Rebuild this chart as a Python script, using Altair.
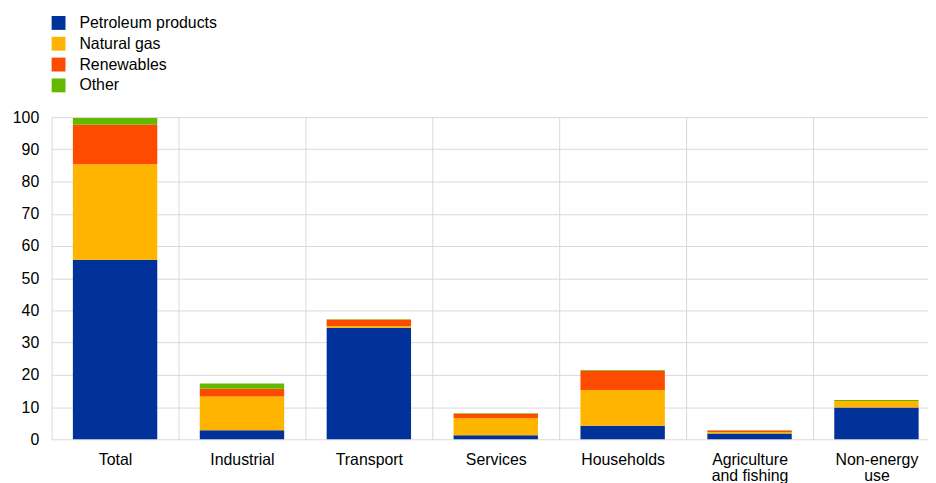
import altair as alt
import pandas as pd

categories = ["Total", "Industrial", "Transport", "Services", "Households",
              "Agriculture\nand fishing", "Non-energy\nuse"]
series = ["Petroleum products", "Natural gas", "Renewables", "Other"]
petroleum = [55.7, 2.8, 34.6, 1.3, 4.2, 1.8, 9.9]
natural_gas = [29.7, 10.5, 0.6, 5.3, 11.1, 0.5, 2.0]
renewables = [12.2, 2.4, 1.9, 1.3, 6.0, 0.4, 0.0]
other = [2.1, 1.6, 0.2, 0.2, 0.2, 0.1, 0.3]
colors = ["#003299", "#FFB400", "#FF4B00", "#65B800"]

rows = []
for s_i, (name, vals) in enumerate(zip(series, [petroleum, natural_gas, renewables, other])):
    for cat, v in zip(categories, vals):
        rows.append({"category": cat, "series": name, "value": v, "order": s_i})
df = pd.DataFrame(rows)

font = "Liberation Sans"

chart = alt.Chart(df).mark_bar(width=alt.RelativeBandSize(0.665)).encode(
    x=alt.X("category:N", sort=categories, title=None,
            scale=alt.Scale(paddingInner=0, paddingOuter=0, range=[0, 896]),
            axis=alt.Axis(labelAngle=0, tickBand="extent", grid=True, ticks=False,
                          domain=False, labelPadding=12, labelFontSize=16,
                          labelColor="#000000", labelFont=font, labelLineHeight=17,
                          labelExpr="split(datum.label, '\\n')",
                          gridColor="#d9d9d9", gridWidth=1)),
    y=alt.Y("value:Q", stack="zero", title=None,
            scale=alt.Scale(domain=[0, 100], nice=False),
            axis=alt.Axis(values=list(range(0, 101, 10)), ticks=False, domain=False,
                          labelPadding=13, labelFontSize=16, labelColor="#000000",
                          labelFont=font, gridColor="#d9d9d9", gridWidth=1)),
    color=alt.Color("series:N", sort=series, title=None,
                    scale=alt.Scale(domain=series, range=colors),
                    legend=alt.Legend(orient="none", legendX=-1, legendY=-103,
                                      symbolType="square", symbolSize=196,
                                      symbolStrokeWidth=0, labelFontSize=16,
                                      labelFont=font, labelColor="#000000",
                                      labelOffset=13, rowPadding=5)),
    order=alt.Order("order:Q", sort="ascending"),
).properties(
    width=884, height=325,
    autosize=alt.AutoSizeParams(type="none"),
    padding={"left": 44, "top": 108, "right": 0, "bottom": 42},
).configure_view(stroke=None)

chart.save("out.html", embed_options={"renderer": "svg", "actions": False})
